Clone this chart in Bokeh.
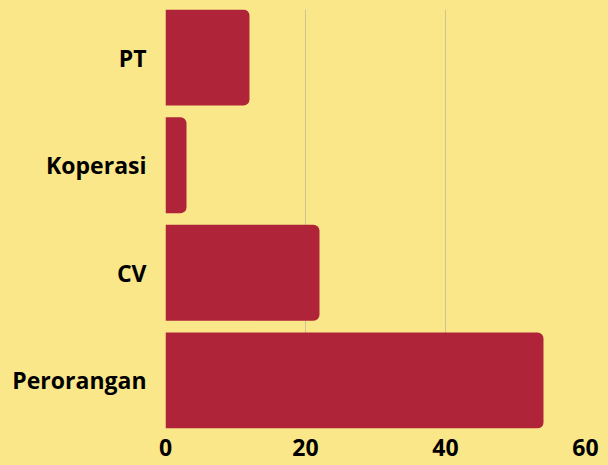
from bokeh.plotting import figure
from bokeh.models import FixedTicker, Range1d, ColumnDataSource
from bokeh.embed import file_html
from bokeh.resources import INLINE

categories = ["Perorangan", "CV", "Koperasi", "PT"]
values = [54, 22, 3, 12]
x_ticks = [0, 20, 40, 60]

BG = "#F9E78A"
BAR = "#B0243A"
GRID = "#CFC392"
FONT = "Open Sans"

positions = list(range(len(categories)))
src = ColumnDataSource(dict(y=positions, v=values, cat=categories))

p = figure(width=608, height=465, output_backend="svg", toolbar_location=None,
           x_range=Range1d(0, 60), y_range=Range1d(-0.446, 3.446),
           min_border_left=165, min_border_right=23, min_border_top=9,
           min_border_bottom=37)
p.background_fill_color = BG
p.border_fill_color = BG
p.outline_line_color = None

p.hbar(y="y", left=0, right="v", height=0.892, source=src, fill_color=BAR,
       line_color=None, border_radius=(0, 6, 6, 0))

p.ygrid.grid_line_color = None
p.xgrid.ticker = FixedTicker(ticks=x_ticks)
p.xgrid.grid_line_color = GRID
p.xgrid.grid_line_width = 1
p.xgrid.level = "underlay"

p.xaxis.ticker = FixedTicker(ticks=x_ticks)
p.yaxis.ticker = FixedTicker(ticks=positions)
p.yaxis.major_label_overrides = {i: c for i, c in zip(positions, categories)}

for ax in (p.xaxis, p.yaxis):
    ax.axis_line_color = None
    ax.major_tick_line_color = None
    ax.minor_tick_line_color = None
    ax.major_tick_out = 0
    ax.major_tick_in = 0
    ax.major_label_text_font = FONT
    ax.major_label_text_font_style = "bold"
    ax.major_label_text_font_size = "23px"
    ax.major_label_text_color = "#000000"
p.yaxis.major_label_standoff = 19
p.xaxis.major_label_standoff = 10

html = file_html(p, INLINE)
html = html.replace("</head>", "<style>html,body{background:#F9E78A;}</style></head>", 1)
open("out.html", "w").write(html)
